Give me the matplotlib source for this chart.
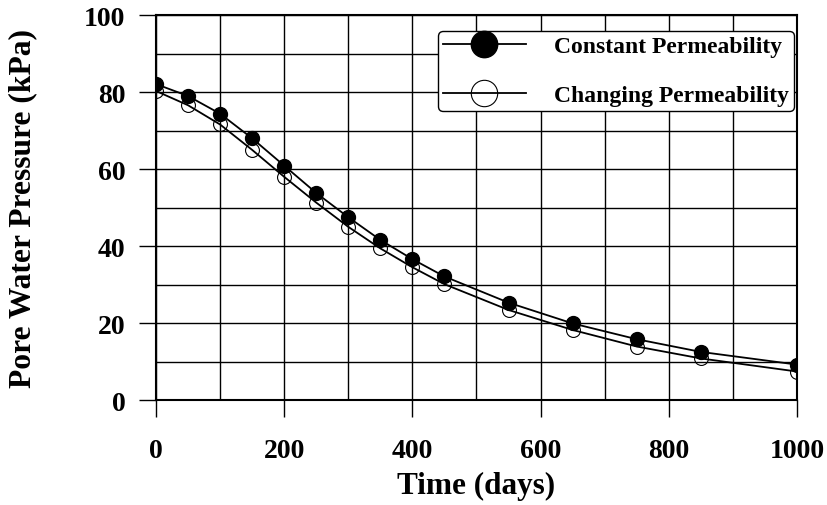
import matplotlib
matplotlib.use("Agg")
import matplotlib.pyplot as plt
from matplotlib.lines import Line2D
from matplotlib.ticker import MultipleLocator

plt.rcParams['font.family'] = ['Liberation Serif', 'DejaVu Serif']
plt.rcParams['font.weight'] = 'bold'

# time (days) and pore water pressure (kPa)
time_days = [0, 50, 100, 150, 200, 250, 300, 350, 400, 450, 550, 650, 750, 850, 1000]
pwp_constant = [82.1, 79.0, 74.4, 68.0, 60.9, 53.8, 47.5, 41.6, 36.6, 32.1, 25.3, 19.9, 15.8, 12.5, 9.2]
pwp_changing = [80.3, 76.6, 71.6, 65.0, 58.0, 51.3, 45.0, 39.4, 34.5, 30.1, 23.4, 18.2, 13.9, 10.8, 7.4]

labels = ["Constant Permeability", "Changing Permeability"]

fig = plt.figure(figsize=(8.27, 5.06), dpi=100)
ax = fig.add_axes([0.1886, 0.2075, 0.9637 - 0.1886, 0.968 - 0.2075])

ax.plot(time_days, pwp_changing, color='black', lw=1.3, marker='o', ms=10,
        mfc='none', mec='black', mew=0.8, zorder=3)
ax.plot(time_days, pwp_constant, color='black', lw=1.3, marker='o', ms=10,
        mfc='black', mec='black', zorder=4)

ax.set_xlim(0, 1000)
ax.set_ylim(0, 100)
ax.xaxis.set_major_locator(MultipleLocator(200))
ax.xaxis.set_minor_locator(MultipleLocator(100))
ax.yaxis.set_major_locator(MultipleLocator(20))
ax.yaxis.set_minor_locator(MultipleLocator(10))
ax.grid(which='both', color='black', lw=1.0)
ax.set_axisbelow(True)

ax.tick_params(axis='both', which='major', direction='out', length=12, width=1.0,
               labelsize=20)
ax.tick_params(axis='both', which='minor', length=0)
ax.tick_params(axis='y', pad=10)
ax.tick_params(axis='x', pad=15.5)
for lab in ax.get_xticklabels() + ax.get_yticklabels():
    lab.set_fontweight('bold')

for sp in ax.spines.values():
    sp.set_linewidth(1.5)

ax.set_xlabel("Time (days)", fontsize=22.5, fontweight='bold', va='top')
ax.set_ylabel("Pore Water Pressure (kPa)", fontsize=22.7, fontweight='bold')
ax.xaxis.set_label_coords(0.5, -0.183)
ax.yaxis.set_label_coords(-0.186, 0.501)

handles = [
    Line2D([], [], color='black', lw=1.3, marker='o', ms=19, mfc='black', mec='black'),
    Line2D([], [], color='black', lw=1.3, marker='o', ms=19, mfc='none', mec='black', mew=0.8),
]
leg = ax.legend(handles, labels, loc='upper right', bbox_to_anchor=(0.995, 0.959),
                prop={'weight': 'bold', 'size': 17}, frameon=True,
                fancybox=True, framealpha=1, edgecolor='black',
                handlelength=3.5, handletextpad=1.2, labelspacing=1.15,
                borderpad=0.2, borderaxespad=0)
leg.get_frame().set_linewidth(1.0)

fig.savefig("out.png", dpi=100)
